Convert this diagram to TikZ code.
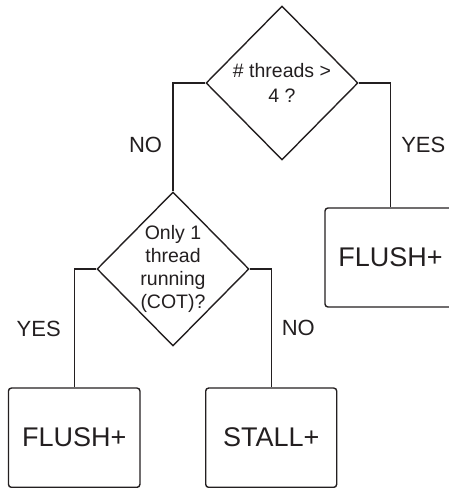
\documentclass[tikz,border=0pt]{standalone}
\usepackage{fontspec}
\setmainfont{Liberation Sans}
\usetikzlibrary{shapes.geometric}
\definecolor{ink}{HTML}{231F20}
\begin{document}
\begin{tikzpicture}[x=1pt,y=1pt,
  line width=1.4pt, draw=ink, text=ink,
  diam/.style={draw, shape=diamond, inner sep=0pt, minimum width=152pt, minimum height=154pt},
  dtext/.style={align=center, inner sep=0pt, text=ink},
  outbox/.style={draw, rounded corners=3pt, inner sep=0pt, font=\fontsize{27}{30}\selectfont},
  lab/.style={inner sep=0pt, font=\fontsize{22}{24}\selectfont}]
\useasboundingbox (0,0) rectangle (449,488);
\clip (0,0) rectangle (449,488);
\node[diam, label={[dtext, font=\fontsize{19.5}{25.7}\selectfont]center:{\# threads >\\4 ?}}] (d1) at (282,405) {};
\node[diam, label={[dtext, font=\fontsize{19.5}{23.3}\selectfont]center:{Only 1\\thread\\running\\(COT)?}}] (d2) at (173,219) {};
\node[outbox, minimum width=131pt, minimum height=99pt] (b1) at (390.5,230.5) {FLUSH+};
\node[outbox, minimum width=131.5pt, minimum height=99.3pt] (b2) at (74.2,50.3) {FLUSH+};
\node[outbox, minimum width=131pt, minimum height=99.3pt] (b3) at (271.2,50.3) {STALL+};
\draw (d1.west) -| (d2.north);
\draw (d1.east) -| (b1.north);
\draw (d2.west) -| (b2.north);
\draw (d2.east) -| (b3.north);
\node[lab] (l1) at (145.5,343) {NO};
\node[lab] (l2) at (423.3,343.3) {YES};
\node[lab] (l3) at (38.7,159.3) {YES};
\node[lab] (l4) at (298.3,159.7) {NO};
\end{tikzpicture}
\end{document}
